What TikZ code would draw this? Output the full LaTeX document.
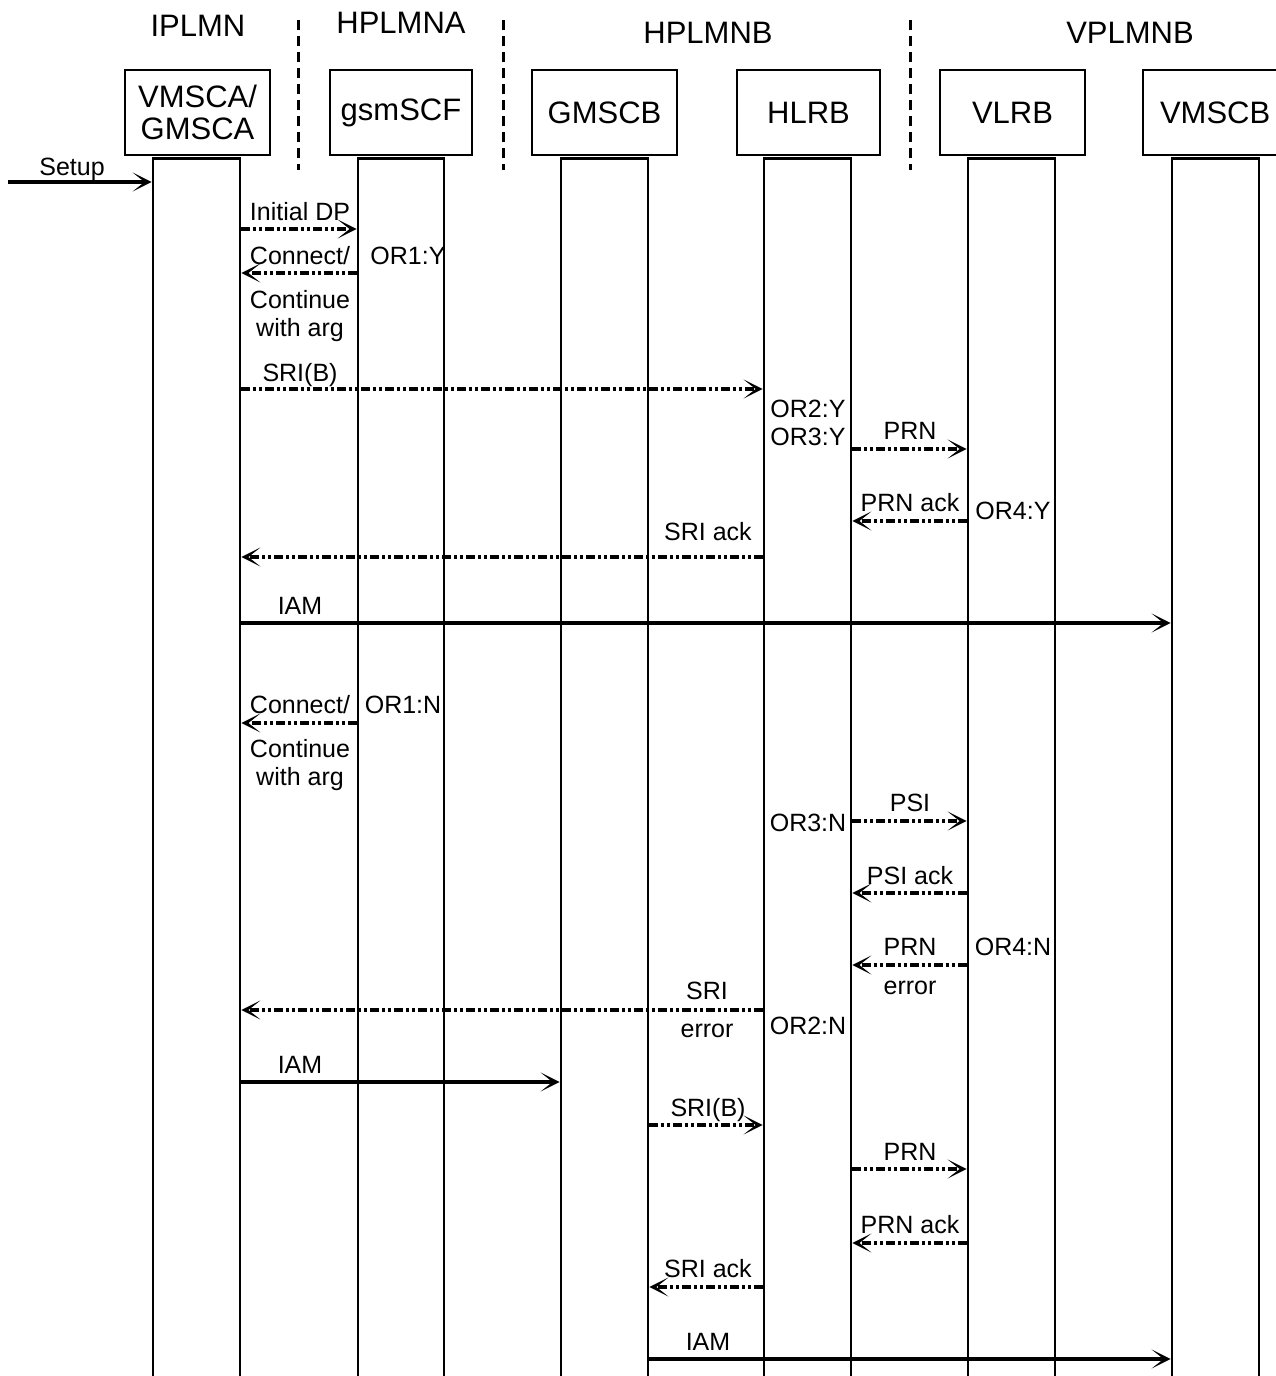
\documentclass[tikz,border=0pt]{standalone}
\usepackage{fontspec}
\setmainfont{Liberation Sans}
\usetikzlibrary{arrows.meta}
\begin{document}
\begin{tikzpicture}[x=1pt,y=-1pt,
 ent/.style={draw,line width=2.8pt,minimum height=85pt,inner sep=0pt,font=\fontsize{31}{32}\selectfont,align=center},
 lifeline/.style={draw,line width=2.8pt,minimum width=87pt,minimum height=1240pt,anchor=north,inner sep=0pt},
 lbl/.style={font=\fontsize{25}{27}\selectfont,inner sep=0pt,anchor=base},
 hdr/.style={font=\fontsize{31}{33}\selectfont,inner sep=0pt,anchor=base},
 sepline/.style={line width=3pt,dash pattern=on 10pt off 6pt},
 tip/.style={-{Stealth[length=19pt,width=19pt,inset=12pt,line width=1.6pt]}},
 msg/.style={line width=3.6pt,tip,dash pattern=on 9pt off 3pt on 3pt off 3pt on 3pt off 3pt},
 solidmsg/.style={line width=3.6pt,tip}
]
\useasboundingbox (0,0) rectangle (1275,1376);

% headers
\node[hdr] (hI) at (198,36) {IPLMN};
\node[hdr] (hA) at (401,33) {HPLMNA};
\node[hdr] (hB) at (708,43) {HPLMNB};
\node[hdr] (hV) at (1130,43) {VPLMNB};

\draw[sepline] (298,20) -- (298,170);
\draw[sepline] (503,20) -- (503,170);
\draw[sepline] (910,20) -- (910,170);

% entity boxes
\node[ent,minimum width=145pt] (e1) at (197.5,112.5) {VMSCA/\\GMSCA};
\node[ent,minimum width=142pt] (e2) at (401,112.5) {gsmSCF};
\node[ent,minimum width=145pt] (e3) at (604.5,112.5) {GMSCB};
\node[ent,minimum width=143pt] (e4) at (808.5,112.5) {HLRB};
\node[ent,minimum width=145pt] (e5) at (1012.5,112.5) {VLRB};
\node[ent,minimum width=145pt,text width=145pt,align=left] (e6) at (1215.5,112.5) {\hspace*{17pt}VMSCB};

% lifelines
\node[lifeline] (L1) at (196.5,157) {};
\node[lifeline,minimum width=86pt] (L2) at (401,157) {};
\node[lifeline] (L3) at (604.5,157) {};
\node[lifeline] (L4) at (807.5,157) {};
\node[lifeline] (L5) at (1011.5,157) {};
\node[lifeline] (L6) at (1215.5,157) {};

% Setup
\coordinate (s0) at (8,182);
\draw[solidmsg] (s0) -- (L1.west |- s0);
\node[lbl] (tSetup) at (72,175) {Setup};

% first scenario
\draw[msg] (L1.east |- 0,229) -- (L2.west |- 0,229);
\node[lbl] (t1) at (300,220) {Initial DP};
\draw[msg] (L2.west |- 0,273) -- (L1.east |- 0,273);
\node[lbl] (t2) at (300,264) {Connect/};
\node[lbl] (t2b) at (300,308) {Continue};
\node[lbl] (t2c) at (300,336) {with arg};
\node[lbl] (o1) at (408,264) {OR1:Y};
\draw[msg] (L1.east |- 0,389) -- (L4.west |- 0,389);
\node[lbl] (t3) at (300,381) {SRI(B)};
\node[lbl] (o2) at (808,417) {OR2:Y};
\node[lbl] (o3) at (808,445) {OR3:Y};
\draw[msg] (L4.east |- 0,449) -- (L5.west |- 0,449);
\node[lbl] (t4) at (910,439) {PRN};
\draw[msg] (L5.west |- 0,521) -- (L4.east |- 0,521);
\node[lbl] (t5) at (910,511) {PRN ack};
\node[lbl] (o4) at (1013,519) {OR4:Y};
\draw[msg] (L4.west |- 0,557) -- (L1.east |- 0,557);
\node[lbl] (t6) at (708,540) {SRI ack};
\draw[solidmsg] (L1.east |- 0,623) -- (L6.west |- 0,623);
\node[lbl] (t7) at (300,614) {IAM};

% second scenario
\draw[msg] (L2.west |- 0,723) -- (L1.east |- 0,723);
\node[lbl] (t8) at (300,713) {Connect/};
\node[lbl] (t8b) at (300,757) {Continue};
\node[lbl] (t8c) at (300,785) {with arg};
\node[lbl] (o5) at (403,713) {OR1:N};
\node[lbl] (o6) at (808,831) {OR3:N};
\draw[msg] (L4.east |- 0,821) -- (L5.west |- 0,821);
\node[lbl] (t9) at (910,811) {PSI};
\draw[msg] (L5.west |- 0,893) -- (L4.east |- 0,893);
\node[lbl] (t10) at (910,884) {PSI ack};
\draw[msg] (L5.west |- 0,965) -- (L4.east |- 0,965);
\node[lbl] (t11) at (910,955) {PRN};
\node[lbl] (t11b) at (910,994) {error};
\node[lbl] (o7) at (1013,955) {OR4:N};
\draw[msg] (L4.west |- 0,1010) -- (L1.east |- 0,1010);
\node[lbl] (t12) at (707,999) {SRI};
\node[lbl] (t12b) at (707,1037) {error};
\node[lbl] (o8) at (808,1034) {OR2:N};
\draw[solidmsg] (L1.east |- 0,1082) -- (L3.west |- 0,1082);
\node[lbl] (t13) at (300,1073) {IAM};
\draw[msg] (L3.east |- 0,1125) -- (L4.west |- 0,1125);
\node[lbl] (t14) at (708,1116) {SRI(B)};
\draw[msg] (L4.east |- 0,1169) -- (L5.west |- 0,1169);
\node[lbl] (t15) at (910,1160) {PRN};
\draw[msg] (L5.west |- 0,1243) -- (L4.east |- 0,1243);
\node[lbl] (t16) at (910,1233) {PRN ack};
\draw[msg] (L4.west |- 0,1287) -- (L3.east |- 0,1287);
\node[lbl] (t17) at (708,1277) {SRI ack};
\draw[solidmsg] (L3.east |- 0,1359) -- (L6.west |- 0,1359);
\node[lbl] (t18) at (708,1350) {IAM};
\end{tikzpicture}
\end{document}
